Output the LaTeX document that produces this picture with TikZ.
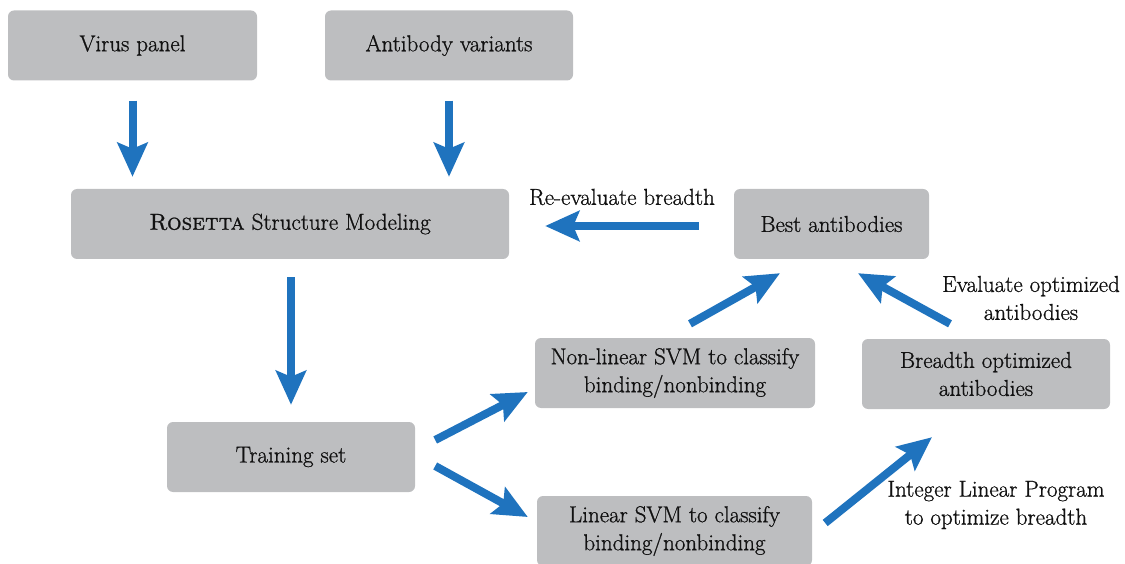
\documentclass[tikz,border=0pt]{standalone}
\usepackage{fontspec}
\setmainfont{Latin Modern Roman}[FakeBold=0.9]
\newfontfamily\rosettacaps{lmromancaps10-regular.otf}[FakeBold=0.9]
\usetikzlibrary{arrows.meta,calc}
\definecolor{boxgray}{HTML}{BDBEC0}
\definecolor{arrowblue}{HTML}{1F73BE}
\definecolor{txt}{HTML}{111111}
\begin{document}
\begin{tikzpicture}[x=1pt,y=-1pt,
  box/.style={fill=boxgray, rounded corners=6pt, minimum height=70pt, align=center,
    inner sep=0pt, text=txt, font=\fontsize{23}{28}\selectfont},
  lbl/.style={align=center, text=txt, font=\fontsize{23}{28}\selectfont, inner sep=0pt},
  flow/.style={draw=arrowblue, line width=8pt,
    -{Stealth[length=34pt, width=30pt, inset=6pt, fill=arrowblue]}}]
\useasboundingbox (0,0) rectangle (1125,564);
\begin{scope}
\clip (0,0) rectangle (1125,564);
\node[box, minimum width=249pt] (virus) at (132.5,45.5) {Virus panel};
\node[box, minimum width=248pt] (anti) at (449,45.5) {Antibody variants};
\node[box, minimum width=438pt] (rosetta) at (290,224) {{\rosettacaps Rosetta} Structure Modeling};
\node[box, minimum width=195pt] (best) at (831.5,224) {Best antibodies};
\node[box, minimum width=280pt] (nl) at (675,373) {Non-linear SVM to classify\\binding/nonbinding};
\node[box, minimum width=248pt] (br) at (986,374) {Breadth optimized\\antibodies};
\node[box, minimum width=248pt] (train) at (291,457) {Training set};
\node[box, minimum width=275pt] (lin) at (674.5,531) {Linear SVM to classify\\binding/nonbinding};
\end{scope}

\node[lbl] (lre) at (622,197) {Re-evaluate breadth};
\node[lbl] (lev) at (1031,298) {Evaluate optimized\\antibodies};
\node[lbl] (lilp) at (996,505) {Integer Linear Program\\to optimize breadth};

\draw[flow] ($(virus.south)+(0,20)$) -- ($(rosetta.north -| virus.south)+(0,-12)$);
\draw[flow] ($(anti.south)+(0,20)$) -- ($(rosetta.north -| anti.south)+(0,-12)$);
\draw[flow] ($(rosetta.south)+(1,18)$) -- ($(train.north)+(0,-17)$);
\draw[flow] ($(best.west)+(-35,2)$) -- ($(rosetta.east)+(36,2)$);
\draw[flow] ($(train.east)+(20,-17)$) -- ($(nl.west)+(-7,19)$);
\draw[flow] ($(train.east)+(20,9)$) -- ($(lin.west)+(-9,-14)$);
\draw[flow] ($(nl.north)+(15,-14)$) -- ($(best.south)+(-51.5,14)$);
\draw[flow] ($(br.north)+(-36,-15)$) -- ($(best.south)+(26.5,14)$);
\draw[flow] ($(lin.east)+(13,-8)$) -- ($(br.south)+(-54,28)$);
\end{tikzpicture}
\end{document}
